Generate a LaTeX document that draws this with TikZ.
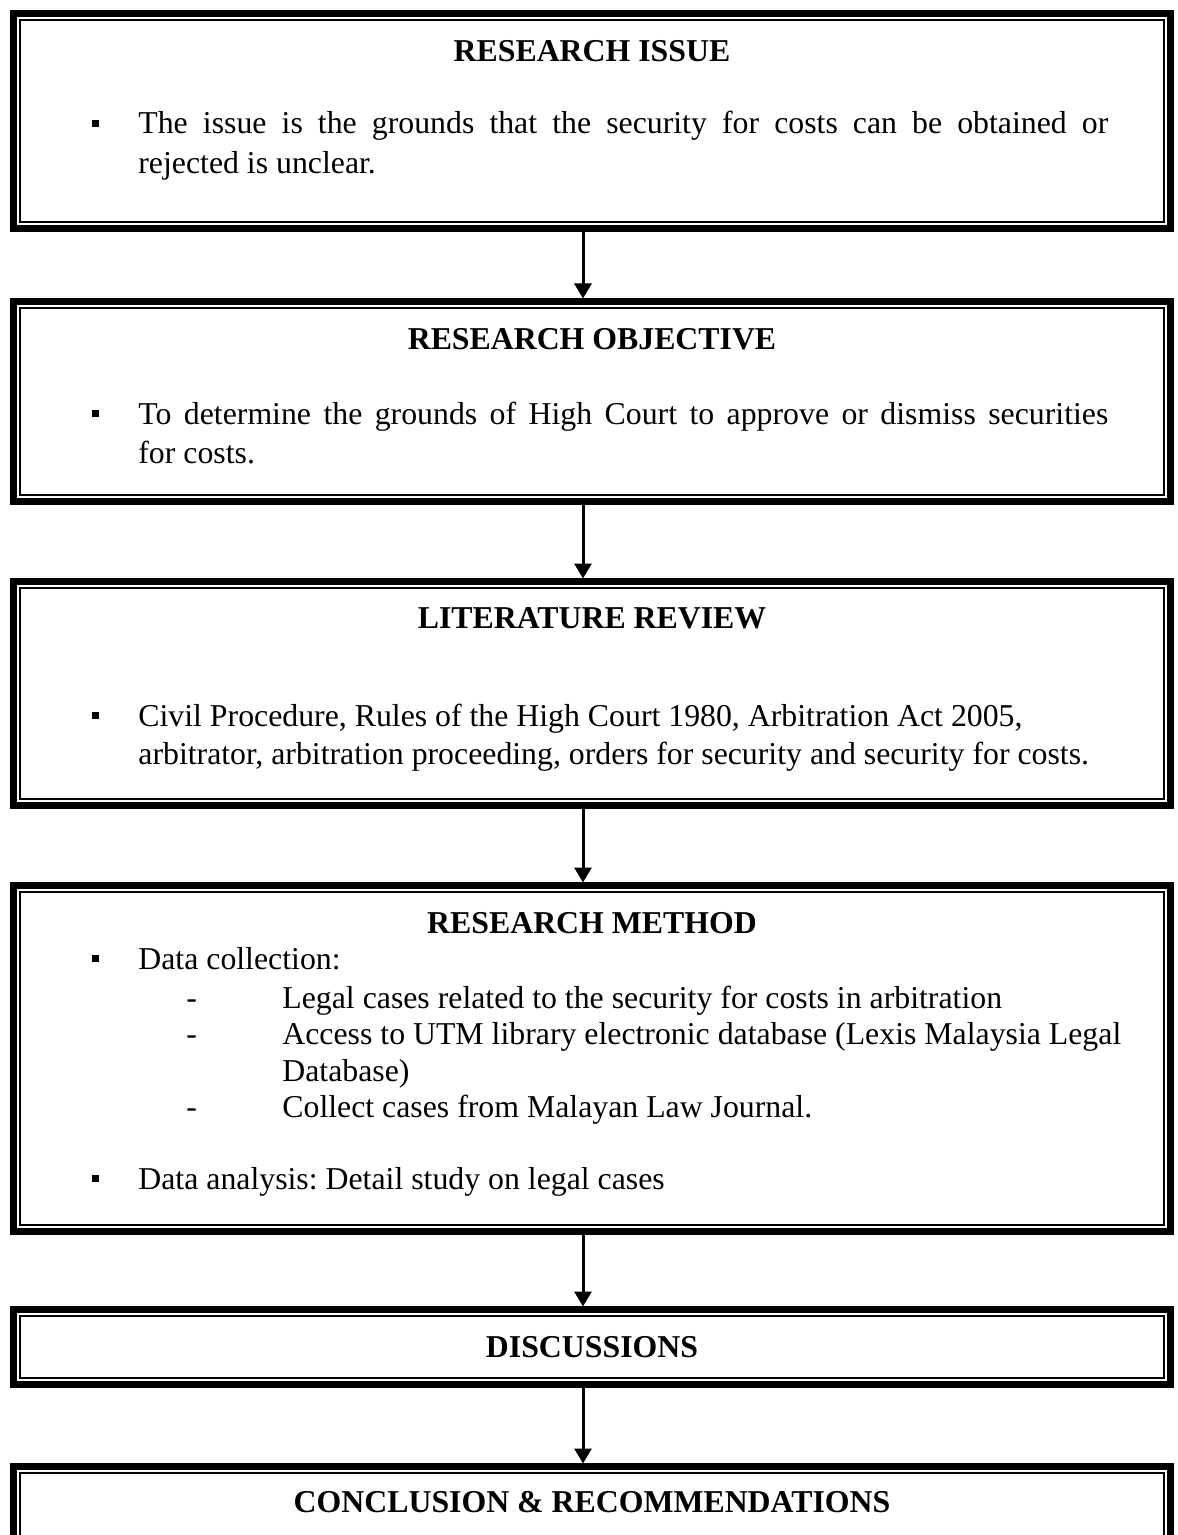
\documentclass[tikz,border=0pt]{standalone}
\usepackage{fontspec}
\setmainfont{Liberation Serif}
\usetikzlibrary{arrows.meta}
\frenchspacing
\tikzset{
  frame/.style={draw, line width=3.5pt, outer sep=0pt, inner sep=0pt, minimum width=578.5pt},
  innerline/.style={line width=0.75pt},
  title/.style={font=\fontsize{15.9}{19}\selectfont\bfseries\frenchspacing, anchor=base, inner sep=0pt},
  body/.style={font=\fontsize{15.9}{19}\selectfont\frenchspacing, anchor=base west, inner sep=0pt},
  bul/.style={fill=black, draw=none, inner sep=0pt, minimum size=3.5pt},
  flow/.style={line width=1.5pt, -{Triangle[width=8.5pt,length=7.5pt]}, shorten >=1.5pt},
}
\begin{document}
\begin{tikzpicture}[x=0.5pt,y=-0.5pt]
\useasboundingbox (0,0) rectangle (1177,1535);
\clip (0,0) rectangle (1177,1535);
% boxes
\node[frame, minimum height=107.5pt] (b1) at (592,121) {};
\node[frame, minimum height=100pt]   (b2) at (592,401.5) {};
\node[frame, minimum height=112pt]   (b3) at (592,693.5) {};
\node[frame, minimum height=173pt]   (b4) at (592,1058.5) {};
\node[frame, minimum height=37.5pt]  (b5) at (592,1347) {};
\node[frame, minimum height=90pt]    (b6) at (592,1556.5) {};
\foreach \b in {b1,b2,b3,b4,b5,b6}
  \draw[innerline] ([shift={(3.25pt,-3.25pt)}]\b.north west) rectangle ([shift={(-3.25pt,3.25pt)}]\b.south east);
% connectors
\draw[flow] ([xshift=-4.5pt]b1.south) -- ([xshift=-4.5pt]b2.north);
\draw[flow] ([xshift=-4.5pt]b2.south) -- ([xshift=-4.5pt]b3.north);
\draw[flow] ([xshift=-4.5pt]b3.south) -- ([xshift=-4.5pt]b4.north);
\draw[flow] ([xshift=-4.5pt]b4.south) -- ([xshift=-4.5pt]b5.north);
\draw[flow] ([xshift=-4.5pt]b5.south) -- ([xshift=-4.5pt]b6.north);
% box 1
\node[title] (t1) at (592,62) {RESEARCH ISSUE};
\node[bul] (u1) at (95.5,123.5) {};
\node[body] (l11) at (138,134) {\makebox[485pt][s]{The issue is the grounds that the security for costs can be obtained or}};
\node[body] (l12) at (138,174) {rejected is unclear.};
% box 2
\node[title] (t2) at (592,350) {RESEARCH OBJECTIVE};
\node[bul] (u2) at (95.5,413.5) {};
\node[body] (l21) at (138,424) {\makebox[485pt][s]{To determine the grounds of High Court to approve or dismiss securities}};
\node[body] (l22) at (138,463) {for costs.};
% box 3
\node[title] (t3) at (592,628) {LITERATURE REVIEW};
\node[bul] (u3) at (95.5,715.5) {};
\node[body] (l31) at (138,726) {Civil Procedure, Rules of the High Court 1980, Arbitration Act 2005,};
\node[body] (l32) at (138,764) {arbitrator, arbitration proceeding, orders for security and security for costs.};
% box 4
\node[title] (t4) at (592,933) {RESEARCH METHOD};
\node[bul] (u4) at (95.5,958.5) {};
\node[body] (l41) at (138,969) {Data collection:};
\node[body] (d1) at (186,1008) {-};
\node[body] (l42) at (282,1008) {Legal cases related to the security for costs in arbitration};
\node[body] (d2) at (186,1044) {-};
\node[body] (l43) at (282,1044) {Access to UTM library electronic database (Lexis Malaysia Legal};
\node[body] (l44) at (282,1081) {Database)};
\node[body] (d3) at (186,1117) {-};
\node[body] (l45) at (282,1117) {Collect cases from Malayan Law Journal.};
\node[bul] (u5) at (95.5,1178.5) {};
\node[body] (l46) at (138,1189) {Data analysis: Detail study on legal cases};
% box 5
\node[title] (t5) at (592,1357) {DISCUSSIONS};
% box 6
\node[title] (t6) at (592,1512) {CONCLUSION \& RECOMMENDATIONS};
\end{tikzpicture}
\end{document}
